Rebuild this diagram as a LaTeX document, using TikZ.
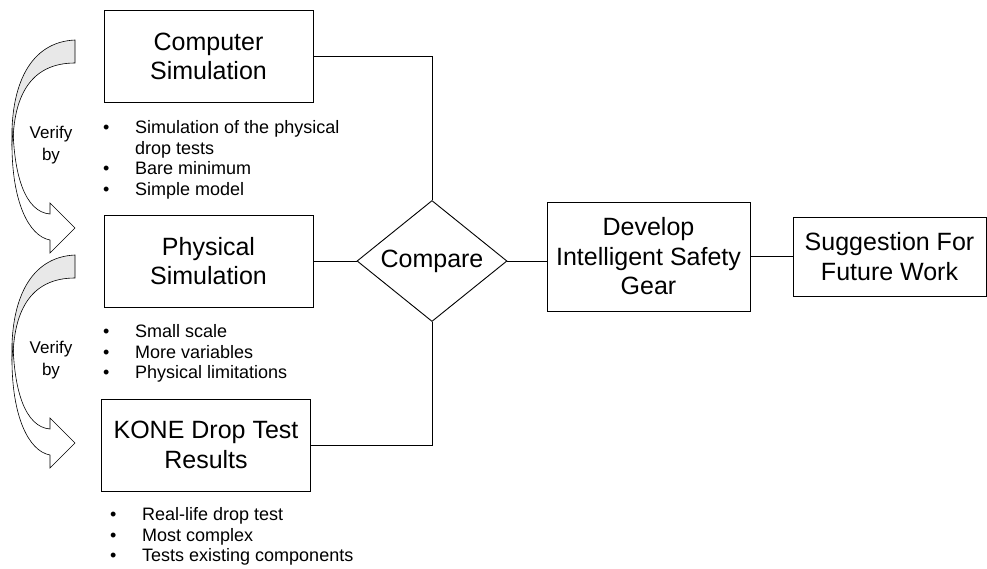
\documentclass[tikz,border=0pt]{standalone}
\usepackage{fontspec}
\setmainfont{Liberation Sans}
\usetikzlibrary{positioning,shapes.geometric}

\definecolor{shadegray}{RGB}{232,232,232}

% curved "verify by" arrow, #1 = downward shift
\newcommand{\verifyarrow}[1]{%
  \begin{scope}[shift={(0,#1)}]
    \filldraw[arrowline, fill=shadegray] (75,40) .. controls (30,42) and (10,85) .. (12,145)
      -- (13,150) .. controls (12,90) and (35,63) .. (75,63) -- cycle;
    \filldraw[arrowline, fill=white] (13,128) .. controls (14,175) and (25,212) .. (50,214)
      -- (50,203) -- (75,228) -- (50,253) -- (50,240)
      .. controls (28,236) and (12,200) .. (12,145) -- cycle;
  \end{scope}}

\begin{document}
\begin{tikzpicture}[x=1pt, y=-1pt, node distance=200pt, on grid,
    box/.style={draw, line width=0.9pt, minimum width=209pt, minimum height=92pt,
      inner sep=0pt, align=center, font=\fontsize{25}{29.5}\selectfont},
    decision/.style={diamond, aspect=1.25, draw, line width=0.9pt, minimum width=150pt,
      minimum height=121pt, inner sep=0pt, font=\fontsize{25}{29.5}\selectfont},
    notes/.style={anchor=north west, inner sep=0pt, font=\fontsize{18}{20.5}\selectfont},
    verifytext/.style={align=center, inner sep=0pt, font=\fontsize{17}{22}\selectfont},
    arrowline/.style={line width=0.6pt},
    link/.style={line width=0.9pt}
  ]
  \useasboundingbox (0,0) rectangle (987,568);

  \verifyarrow{0}
  \verifyarrow{215}

  \node[box] (compsim) at (208.5,56.5) {Computer\\Simulation};
  \node[box] (physsim) [below=204.5pt of compsim] {Physical\\Simulation};
  \node[box] (kone) [below=184pt of physsim, xshift=-2.5pt] {KONE Drop Test\\Results};
  \node[decision] (compare) [right=223.5pt of physsim] {Compare};
  \node[box, minimum width=203pt, minimum height=109pt] (develop)
    [right=216.5pt of compare, yshift=4.5pt] {Develop\\Intelligent Safety\\Gear};
  \node[box, minimum width=193pt, minimum height=79pt] (suggest)
    [right=241pt of develop] {Suggestion For\\Future Work};

  \node[verifytext] (verify1) at (51,145) {Verify\\by};
  \node[verifytext] (verify2) at (51,360) {Verify\\by};

  \node[notes] (compnotes) at (103,119) {\begin{tabular}{@{}p{32pt}@{}l@{}}
    \textbullet & Simulation of the physical\\
                & drop tests\\
    \textbullet & Bare minimum\\
    \textbullet & Simple model
  \end{tabular}};
  \node[notes] (physnotes) at (103,323) {\begin{tabular}{@{}p{32pt}@{}l@{}}
    \textbullet & Small scale\\
    \textbullet & More variables\\
    \textbullet & Physical limitations
  \end{tabular}};
  \node[notes] (konenotes) at (110,506) {\begin{tabular}{@{}p{32pt}@{}l@{}}
    \textbullet & Real-life drop test\\
    \textbullet & Most complex\\
    \textbullet & Tests existing components
  \end{tabular}};

  \draw[link] (compsim.east) -| (compare.north);
  \draw[link] (physsim.east) -- (compare.west);
  \draw[link] (kone.east) -| (compare.south);
  \draw[link] (compare.east) -- (compare.east -| develop.west);
  \draw[link] (develop.east) -- (suggest.west);
\end{tikzpicture}
\end{document}
